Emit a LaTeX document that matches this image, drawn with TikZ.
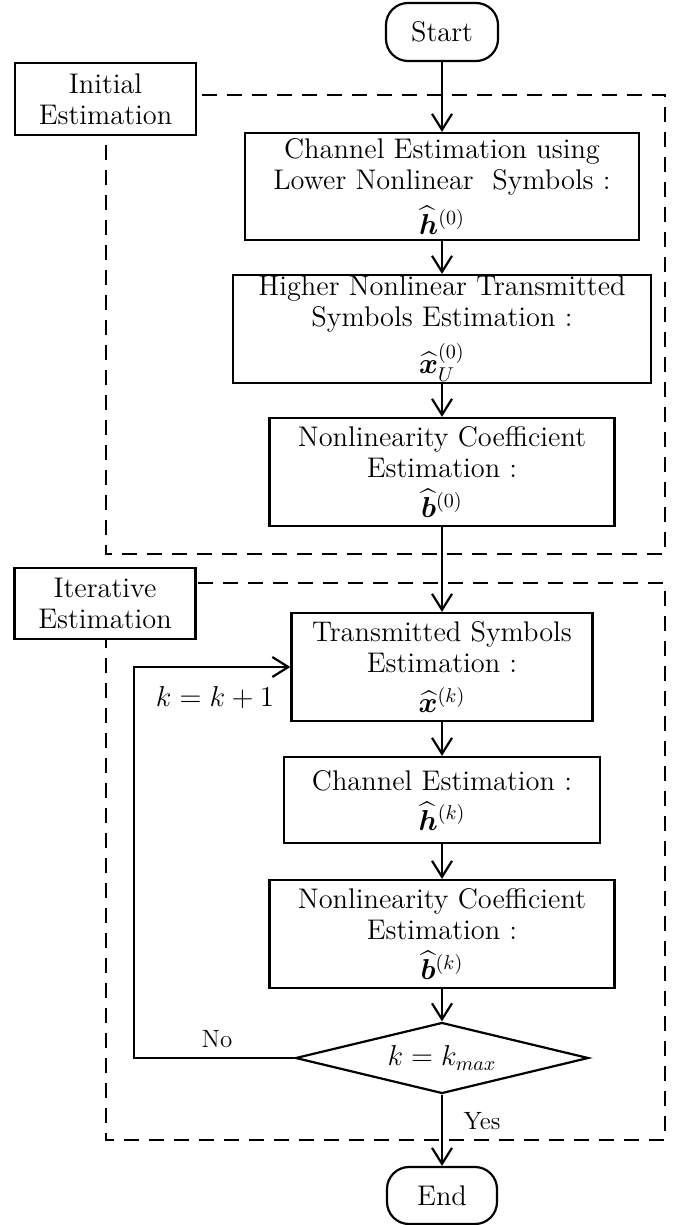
\documentclass[tikz,border=0pt]{standalone}
\usepackage{amsmath,amssymb}
\usepackage{bm}
\usepackage{tikz}
\usetikzlibrary{arrows.meta,positioning,shapes.geometric}

\begin{document}
\begin{tikzpicture}[
      x=0.5pt, y=-0.5pt, font=\fontsize{14.2}{15.5}\selectfont,
      >={Straight Barb[length=8pt, width=10pt]},
      proc/.style={draw=black, line width=1.1pt, fill=white,
      align=center, inner sep=0pt, minimum height=54pt},
      term/.style={draw=black, line width=1.1pt, fill=white, rounded corners=11pt,
      minimum width=56pt, minimum height=29pt, inner sep=0pt},
      decide/.style={diamond, aspect=4, draw=black, line width=1.1pt, fill=white,
      minimum width=146.5pt, minimum height=35.5pt, inner sep=0pt},
      tag/.style={draw=black, line width=1.1pt, fill=white, align=center,
      minimum width=90.5pt, minimum height=36pt, inner sep=0pt},
      region/.style={line width=1.1pt, dash pattern=on 7.5pt off 5pt},
      small/.style={font=\fontsize{12.5}{14}\selectfont},
    flow/.style={->, line width=1.1pt, draw=black}]
    \useasboundingbox (0,0) rectangle (683,1225);

    % ---- dashed stage frames (behind everything) ----
    \draw[region] (106,95)  rectangle (665,554);
    \draw[region] (106,583) rectangle (665,1140);
    \node[tag] (initial) at (105.5,99) {Initial\\Estimation};
    \node[tag, minimum height=35.5pt] (iterative) at (105,603.5) {Iterative\\Estimation};

    % ---- initial estimation ----
    \node[term] (start) at (442,32) {Start};
    \node[proc, minimum width=197pt, minimum height=53.5pt] (chan0) at (442,186.5)
    {Channel Estimation using\\Lower Nonlinear~ Symbols :\\[4.5pt]$\widehat{\bm h}^{(0)}$};
    \node[proc, minimum width=209pt] (sym0) at (442,329)
    {Higher Nonlinear Transmitted\\Symbols Estimation :\\[4.5pt]$\widehat{\bm x}_U^{(0)}$};
    \node[proc, minimum width=172.5pt] (coef0) at (442,472)
    {Nonlinearity Coefficient\\Estimation :\\[4.5pt]$\widehat{\bm b}^{(0)}$};

    % ---- iterative estimation ----
    \node[proc, minimum width=150.5pt] (symk) at (442,667)
    {Transmitted Symbols\\Estimation :\\[4.5pt]$\widehat{\bm x}^{(k)}$};
    \node[proc, minimum width=158pt, minimum height=43pt] (chank) at (442,800)
    {Channel Estimation :\\[4.5pt]$\widehat{\bm h}^{(k)}$};
    \node[proc, minimum width=172.5pt] (coefk) at (442,934)
    {Nonlinearity Coefficient\\Estimation :\\[4.5pt]$\widehat{\bm b}^{(k)}$};
    \node[decide] (check) at (442,1058) {$k = k_{max}$};
    \node[term, minimum width=55pt, minimum height=28.5pt] (end) at (442,1195.5) {End};

    % ---- flow ----
    \draw[flow] (start) -- (chan0);
    \draw[flow] (chan0) -- (sym0);
    \draw[flow] (sym0) -- (coef0);
    \draw[flow] (coef0) -- (symk);
    \draw[flow] (symk) -- (chank);
    \draw[flow] (chank) -- (coefk);
    \draw[flow] (coefk) -- (check);
    \draw[flow] (check) -- (end);
    \coordinate (back) at (134,1058);
    \draw[flow] (check.west) -- (back) |- (symk.west);

    % ---- labels ----
    \node (incr) at (215,698) {$k = k+1$};
    \node[small] (no) at (217,1039) {No};
    \node[small] (yes) at (482,1121) {Yes};
  \end{tikzpicture}
\end{document}
